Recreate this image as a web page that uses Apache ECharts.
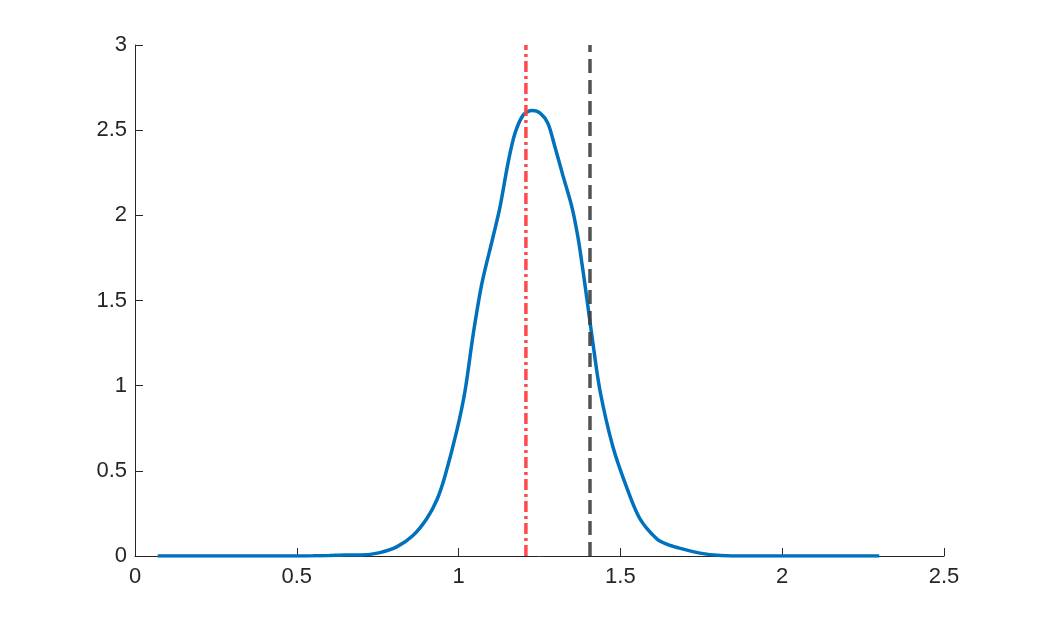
<!DOCTYPE html>
<html lang="en">
<head>
	<meta charset="UTF-8">
	<title>Density</title>
	<script src="https://cdn.jsdelivr.net/npm/echarts@6/dist/echarts.min.js"></script>
	<style>
		html, body { margin: 0; padding: 0; background: #fff; }
		#chart { width: 1042px; height: 625px; }
	</style>
</head>
<body>
	<div id="chart"></div>
	<script>
		// density curve
		var curveX = [0.07, 0.3, 0.5, 0.55, 0.6, 0.65, 0.7, 0.757, 0.81, 0.859, 0.902, 0.933, 0.958, 0.995, 1.02, 1.045, 1.072, 1.106, 1.128, 1.153, 1.174, 1.2, 1.227, 1.252, 1.276, 1.298, 1.323, 1.35, 1.369, 1.384, 1.4, 1.415, 1.437, 1.477, 1.52, 1.56, 1.613, 1.645, 1.675, 1.746, 1.81, 1.9, 2.3];
		var curveY = [0, 0, 0, 0.001, 0.003, 0.006, 0.006, 0.02, 0.055, 0.12, 0.22, 0.33, 0.47, 0.74, 0.97, 1.3, 1.6, 1.87, 2.05, 2.31, 2.48, 2.59, 2.615, 2.6, 2.54, 2.4, 2.23, 2.05, 1.87, 1.68, 1.46, 1.25, 0.97, 0.64, 0.4, 0.22, 0.1, 0.068, 0.05, 0.017, 0.003, 0, 0];
		var redX = 1.208;   // dash-dot line
		var blackX = 1.406; // dashed line
		var xTicks = [0, 0.5, 1, 1.5, 2, 2.5];
		var yTicks = [0, 0.5, 1, 1.5, 2, 2.5, 3];

		var curve = curveX.map(function (x, i) { return [x, curveY[i]]; });
		var yMax = yTicks[yTicks.length - 1];

		var axisText = { color: '#262626', fontSize: 22, fontFamily: 'Liberation Sans, Arial, sans-serif' };

		var chart = echarts.init(document.getElementById('chart'));
		chart.setOption({
			animation: false,
			grid: { left: 135, right: 98, top: 45, bottom: 69 },
			xAxis: {
				type: 'value', min: xTicks[0], max: xTicks[xTicks.length - 1], interval: 0.5,
				axisLine: { lineStyle: { color: '#262626', width: 1 } },
				axisTick: { inside: true, length: 8, lineStyle: { color: '#262626' } },
				axisLabel: Object.assign({ margin: 10 }, axisText),
				splitLine: { show: false }
			},
			yAxis: {
				type: 'value', min: yTicks[0], max: yMax, interval: 0.5,
				axisLine: { show: true, lineStyle: { color: '#262626', width: 1 } },
				axisTick: { show: true, inside: true, length: 8, lineStyle: { color: '#262626' } },
				axisLabel: Object.assign({ margin: 8 }, axisText),
				splitLine: { show: false }
			},
			series: [
				{
					type: 'line', data: curve, smooth: 0.3, symbol: 'none', z: 2,
					lineStyle: { color: '#0072BD', width: 3.5 }
				},
				{
					type: 'line', data: [[redX, 0], [redX, yMax]], symbol: 'none', z: 3,
					lineStyle: { color: '#FF4040', width: 3.5, type: [11, 4, 3, 4], opacity: 0.95 }
				},
				{
					type: 'line', data: [[blackX, 0], [blackX, yMax]], symbol: 'none', z: 3,
					lineStyle: { color: '#3F3F3F', width: 3.5, type: [14, 7], opacity: 0.9 }
				}
			]
		});
	</script>
</body>
</html>
